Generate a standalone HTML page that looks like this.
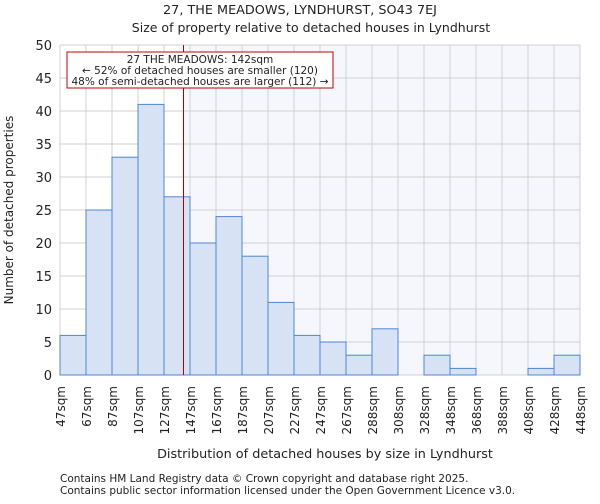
<!DOCTYPE html>
<html><head><meta charset="utf-8"><style>
body{margin:0;background:#fff;font-family:"DejaVu Sans","Liberation Sans",sans-serif;}
svg text{font-family:"DejaVu Sans","Liberation Sans",sans-serif;fill:#222;}
</style></head><body>
<svg id="c" width="600" height="500">
<text x="300" y="14" font-size="12.8" text-anchor="middle">27, THE MEADOWS, LYNDHURST, SO43 7EJ</text>
<text x="311" y="32" font-size="12.5" text-anchor="middle">Size of property relative to detached houses in Lyndhurst</text>
<g id="plot"></g>
<text x="325" y="458" font-size="12.8" text-anchor="middle">Distribution of detached houses by size in Lyndhurst</text>
<text transform="translate(13,210) rotate(-90)" font-size="12" text-anchor="middle">Number of detached properties</text>
<text x="60" y="482" font-size="10.5">Contains HM Land Registry data © Crown copyright and database right 2025.</text>
<text x="60" y="494" font-size="10.5">Contains public sector information licensed under the Open Government Licence v3.0.</text>
</svg>
<script>
const categories=["47sqm","67sqm","87sqm","107sqm","127sqm","147sqm","167sqm","187sqm","207sqm","227sqm","247sqm","267sqm","288sqm","308sqm","328sqm","348sqm","368sqm","388sqm","408sqm","428sqm","448sqm"];
const counts=[6,25,33,41,27,20,24,18,11,6,5,3,7,0,3,1,0,0,1,3];
const yTicks=[0,5,10,15,20,25,30,35,40,45,50];
const propertySize=142;
const binStart=47, binWidth=20;
const L=60,R=580,T=45,B=375;
const ns="http://www.w3.org/2000/svg";
const g=document.getElementById('plot');
const nb=counts.length;
const xs=i=>L+(R-L)*i/nb;
const xv=v=>L+(R-L)*(v-binStart)/(binWidth*nb);
const y=v=>B-(B-T)*v/50;
function mk(t,a){const e=document.createElementNS(ns,t);for(const k in a)e.setAttribute(k,a[k]);g.appendChild(e);return e;}
const px=xv(propertySize);
let e=mk('rect',{x:px,y:T,width:R-px,height:B-T,fill:'#f5f7fd'});


yTicks.forEach(t=>{
 let l=mk('line',{x1:L,x2:R,y1:y(t),y2:y(t),stroke:'#d0d0d0'});
 
 
 let tx=mk('text',{x:L-8,y:y(t)+5,'font-size':13,'text-anchor':'end'});tx.textContent=t;
 
 
});
categories.forEach((c,i)=>{
 let l=mk('line',{x1:xs(i),x2:xs(i),y1:T,y2:B,stroke:'#d0d0d0'});
 
 
 let tx=mk('text',{transform:`translate(${xs(i)+5},386) rotate(-90)`,'font-size':12,'text-anchor':'end'});tx.textContent=c;
 
 
});
counts.forEach((v,i)=>{
 if(v<=0)return;
 let r=mk('rect',{x:xs(i),y:y(v),width:xs(i+1)-xs(i),height:B-y(v),fill:'#d7e2f4',stroke:'#4f86d6','stroke-width':1});
 
 
});
let ln=mk('line',{x1:px,x2:px,y1:T,y2:B,stroke:'#b00000','stroke-width':1});


let bx=mk('rect',{x:67,y:52,width:266,height:36,fill:'#fff',stroke:'#c00000'});


["27 THE MEADOWS: 142sqm","← 52% of detached houses are smaller (120)","48% of semi-detached houses are larger (112) →"].forEach((s,i)=>{
 let t=mk('text',{x:200,y:63+i*11,'font-size':10.5,'text-anchor':'middle'});t.textContent=s;
 
 
});
</script>
</body></html>
